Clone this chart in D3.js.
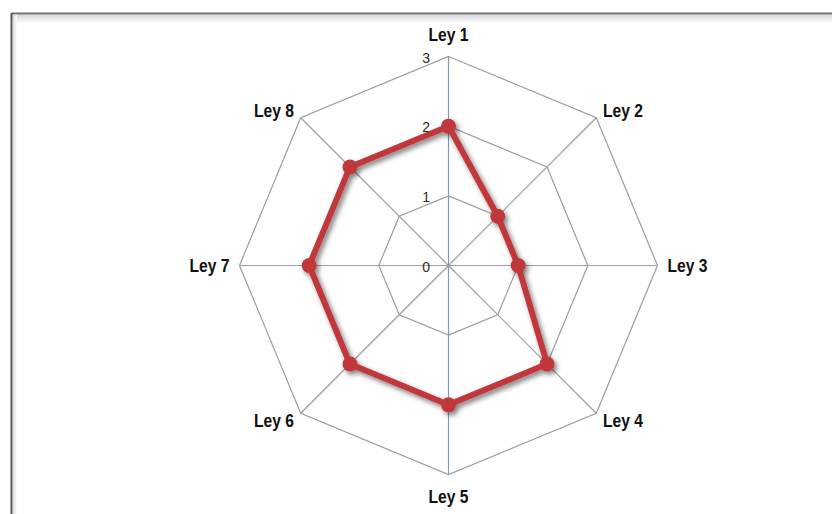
<!DOCTYPE html>
<html>
<head>
<meta charset="utf-8">
<script src="https://cdn.jsdelivr.net/npm/d3@7"></script>
<style>
html,body{margin:0;padding:0;background:#fff;}
svg{display:block;}
</style>
</head>
<body>
<svg id="chart" width="832" height="514"></svg>
<script>
const categories = ["Ley 1","Ley 2","Ley 3","Ley 4","Ley 5","Ley 6","Ley 7","Ley 8"];
const values = [2, 1, 1, 2, 2, 2, 2, 2];
const tickValues = [0, 1, 2, 3];
const tickLabels = ["0", "1", "2", "3"];

const W = 832, H = 514;
const cx = 448.5, cy = 265.5, R = 209;
const svg = d3.select("#chart");

const defs = svg.append("defs");
const f = defs.append("filter").attr("id","shadow").attr("x","-20%").attr("y","-20%").attr("width","140%").attr("height","140%");
f.append("feDropShadow").attr("dx",2.5).attr("dy",3).attr("stdDeviation",2.5).attr("flood-color","#000").attr("flood-opacity",0.5);
const g1 = defs.append("linearGradient").attr("id","topShade").attr("x1",0).attr("y1",0).attr("x2",0).attr("y2",1);
g1.append("stop").attr("offset","0%").attr("stop-color","#d6d8dc");
g1.append("stop").attr("offset","100%").attr("stop-color","#ffffff");
const g2 = defs.append("linearGradient").attr("id","leftShade").attr("x1",0).attr("y1",0).attr("x2",1).attr("y2",0);
g2.append("stop").attr("offset","0%").attr("stop-color","#dcdcdc");
g2.append("stop").attr("offset","100%").attr("stop-color","#ffffff");

// frame
svg.append("rect").attr("x",12).attr("y",15).attr("width",W-12).attr("height",8).attr("fill","url(#topShade)");
svg.append("rect").attr("x",13).attr("y",15).attr("width",4).attr("height",H-15).attr("fill","url(#leftShade)");
svg.append("line").attr("x1",11.5).attr("y1",13.5).attr("x2",W).attr("y2",13.5).attr("stroke","#6d7072").attr("stroke-width",2);
svg.append("line").attr("x1",11.5).attr("y1",13).attr("x2",11.5).attr("y2",H).attr("stroke","#555759").attr("stroke-width",2);

const n = categories.length;
const angle = d3.scaleLinear().domain([0, n]).range([0, 2*Math.PI]);
const r = d3.scaleLinear().domain([0, 3]).range([0, R]);
const pt = (i, v) => [cx + r(v)*Math.sin(angle(i)), cy - r(v)*Math.cos(angle(i))];

const grid = svg.append("g");
tickValues.filter(t => t > 0).forEach(t => {
  const pts = d3.range(n).map(i => pt(i, t));
  grid.append("path").attr("d", d3.line()(pts) + "Z")
    .attr("fill","none").attr("stroke","#9a9da1").attr("stroke-width",1.2);
});
d3.range(n).forEach(i => {
  const [x, y] = pt(i, 3);
  grid.append("line").attr("x1",cx).attr("y1",cy).attr("x2",x).attr("y2",y)
    .attr("stroke", i === 0 || i === 4 ? "#8397b0" : "#9a9da1").attr("stroke-width",1.2);
});

// tick labels
svg.append("g").selectAll("text").data(tickValues).join("text")
  .attr("x", cx - 18.5).attr("y", d => cy - r(d) + 1)
  .attr("text-anchor","end").attr("dominant-baseline","central")
  .attr("font-family","Liberation Sans, Arial, sans-serif").attr("font-size",14)
  .attr("fill","#2a2a2a")
  .text((d,i) => tickLabels[i]);

// category labels
const lab = svg.append("g");
categories.forEach((c, i) => {
  const a = angle(i);
  const sx = Math.sin(a), sy = -Math.cos(a);
  const [tx, ty] = pt(i, 3);
  let x, y, anchor;
  if (Math.abs(sx) < 0.01) {
    anchor = "middle"; x = tx;
    y = sy < 0 ? ty - 16 : ty + 28;
  } else {
    anchor = sx > 0 ? "start" : "end";
    const off = Math.abs(sy) < 0.01 ? 10 : 9.5;
    x = tx + sx*off; y = ty + sy*off + 6.5;
  }
  lab.append("text").attr("x", x).attr("y", y).attr("text-anchor", anchor)
    .attr("font-family","Liberation Sans Narrow, Arial Narrow, sans-serif")
    .attr("font-weight","bold").attr("font-size",18).attr("fill","#111")
    .attr("class","cat")
    .text(c);
});
lab.selectAll("text.cat").each(function() {
  const t = d3.select(this);
  const w = this.getComputedTextLength();
  const target = 40 * (t.text().length / 5);
  if (w > target * 1.12) {
    t.attr("textLength", target).attr("lengthAdjust","spacingAndGlyphs");
  }
});

// series
const series = svg.append("g").attr("filter","url(#shadow)");
const pts = values.map((v, i) => pt(i, v));
series.append("path").attr("d", d3.line()(pts) + "Z")
  .attr("fill","none").attr("stroke","#c0393a").attr("stroke-width",6)
  .attr("stroke-linejoin","round");
series.selectAll("circle").data(values).join("circle")
  .attr("cx", (d,i) => pt(i, d)[0]).attr("cy", (d,i) => pt(i, d)[1])
  .attr("r", 7.5).attr("fill","#c0393a");
</script>
</body>
</html>
